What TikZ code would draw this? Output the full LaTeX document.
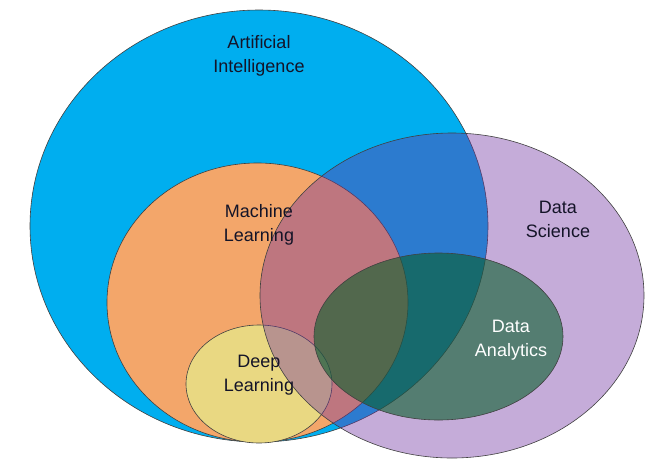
\documentclass[tikz,border=0pt]{standalone}
\usepackage{fontspec}
\setmainfont{Liberation Sans}
\definecolor{aicol}{RGB}{0,174,239}
\definecolor{mlcol}{RGB}{243,166,106}
\definecolor{dlcol}{RGB}{233,216,130}
\definecolor{dscol}{RGB}{112,48,160}
\definecolor{dacol}{RGB}{10,95,45}
\definecolor{txt}{RGB}{20,20,40}
\begin{document}
\begin{tikzpicture}[x=1pt,y=-1pt,
  setc/.style={draw=black!75,line width=0.6pt},
  lbl/.style={align=center,font=\fontsize{18}{24}\selectfont,text=txt,inner sep=0pt}]
\useasboundingbox (0,0) rectangle (657,467);
\fill[white] (0,0) rectangle (657,467);
\draw[setc,fill=aicol] (259,226) ellipse [x radius=229,y radius=216];
\draw[setc,fill=mlcol] (257.5,302.5) ellipse [x radius=150.5,y radius=139.5];
\draw[setc,fill=dlcol] (259,384) ellipse [x radius=73,y radius=59];
\draw[setc,fill=dscol,fill opacity=0.4] (452,295.5) ellipse [x radius=192,y radius=162.5];
\draw[setc,fill=dacol,fill opacity=0.6] (438.5,336.5) ellipse [x radius=124.5,y radius=83.5];
\node[lbl] (ai) at (259,56) {Artificial\\Intelligence};
\node[lbl] (ml) at (259,225) {Machine\\Learning};
\node[lbl] (dl) at (259,375) {Deep\\Learning};
\node[lbl] (ds) at (558,219) {Data\\Science};
\node[lbl,text=white] (da) at (511,340) {Data\\Analytics};
\end{tikzpicture}
\end{document}
